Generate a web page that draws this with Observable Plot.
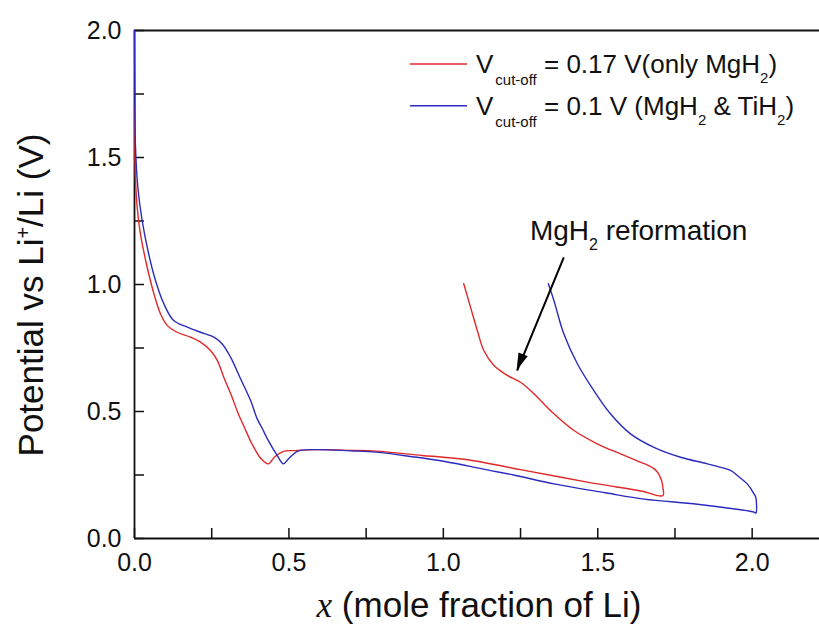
<!DOCTYPE html>
<html><head><meta charset="utf-8">
<script src="https://cdn.jsdelivr.net/npm/d3@7"></script>
<script src="https://cdn.jsdelivr.net/npm/@observablehq/plot@0.6"></script>
<style>html,body{margin:0;padding:0;background:#fff} #chart svg{display:block}</style>
</head><body><div id="chart"></div>
<script>
// Vcut-off = 0.17 V (only MgH2): discharge then charge
const redX = [0, 0.001, 0.003, 0.009, 0.019, 0.030, 0.041, 0.063, 0.084, 0.106, 0.138, 0.181, 0.214, 0.246, 0.268, 0.289, 0.316, 0.336, 0.355, 0.380, 0.410, 0.433, 0.455, 0.485, 0.514, 0.589, 0.700, 0.782, 0.931, 1.000, 1.079, 1.250, 1.377, 1.466, 1.525, 1.644, 1.711,
  1.711, 1.706, 1.695, 1.682, 1.660, 1.639, 1.574, 1.498, 1.423, 1.358, 1.293, 1.250, 1.207, 1.164, 1.131, 1.110, 1.088, 1.066];
const redV = [1.70, 1.55, 1.42, 1.30, 1.20, 1.13, 1.068, 0.963, 0.885, 0.839, 0.812, 0.793, 0.773, 0.740, 0.701, 0.635, 0.556, 0.491, 0.440, 0.373, 0.314, 0.294, 0.323, 0.344, 0.346, 0.350, 0.347, 0.344, 0.327, 0.320, 0.310, 0.271, 0.242, 0.222, 0.210, 0.186, 0.169,
  0.200, 0.230, 0.258, 0.275, 0.290, 0.300, 0.333, 0.373, 0.425, 0.491, 0.570, 0.615, 0.642, 0.681, 0.740, 0.819, 0.911, 1.003];

// Vcut-off = 0.1 V (MgH2 & TiH2): discharge then charge
const blueX = [0, 0.001, 0.003, 0.011, 0.025, 0.046, 0.068, 0.095, 0.127, 0.171, 0.214, 0.257, 0.284, 0.311, 0.343, 0.376, 0.397, 0.415, 0.433, 0.462, 0.482, 0.499, 0.529, 0.589, 0.700, 0.782, 0.900, 1.005, 1.142, 1.228, 1.358, 1.525, 1.650, 1.823, 1.950, 2.006, 2.012,
  2.012, 2.006, 1.984, 1.955, 1.930, 1.855, 1.768, 1.682, 1.606, 1.541, 1.487, 1.434, 1.390, 1.358, 1.340];
const blueV = [2.00, 1.78, 1.55, 1.38, 1.25, 1.12, 1.016, 0.924, 0.858, 0.832, 0.812, 0.793, 0.766, 0.714, 0.630, 0.543, 0.472, 0.430, 0.386, 0.327, 0.294, 0.314, 0.344, 0.350, 0.345, 0.340, 0.322, 0.303, 0.270, 0.250, 0.215, 0.180, 0.155, 0.135, 0.115, 0.104, 0.100,
  0.160, 0.176, 0.215, 0.245, 0.268, 0.294, 0.320, 0.359, 0.412, 0.491, 0.583, 0.688, 0.806, 0.937, 1.003];

const xTicks = [0, 0.5, 1.0, 1.5, 2.0];
const xMinor = [0.25, 0.75, 1.25, 1.75];
const yTicks = [0, 0.5, 1.0, 1.5, 2.0];
const yMinor = [0.25, 0.75, 1.25, 1.75];

const seriesColors = ["#e0282a", "#2b2bbd"];
const legendParts = [
  [["V", 0], ["cut-off", 1], [" = 0.17 V(only MgH", 0], ["2", 2], [")", 0]],
  [["V", 0], ["cut-off", 1], [" = 0.1 V (MgH", 0], ["2", 2], [" & TiH", 0], ["2", 2], [")", 0]]
];
const annotationParts = [["MgH", 0], ["2", 2], [" reformation", 0]];
const annotationAt = [1.282, 1.173];
const arrowFrom = [1.390, 1.107];
const arrowTo = [1.239, 0.661];
const xLabelParts = [["x", "italic"], [" (mole fraction of Li)", "normal"]];
const yLabelParts = [["Potential vs Li", 0], ["+", 3], ["/Li (V)", 0]];

const rows = (xs, vs) => xs.map((x, i) => ({x, v: vs[i]}));
const FONT = "'Liberation Sans', Arial, Helvetica, sans-serif";

const plot = Plot.plot({
  width: 819, height: 630,
  marginLeft: 134, marginRight: 0, marginTop: 30, marginBottom: 92,
  style: {fontFamily: FONT, background: "#fff", color: "#111"},
  x: {domain: [0, 2.218], axis: null},
  y: {domain: [0, 2], axis: null},
  marks: [
    Plot.axisX({ticks: xTicks, tickSize: 0, tickPadding: 15, tickFormat: d3.format(".1f"), fontSize: 25, fill: "#111"}),
    Plot.axisY({ticks: yTicks, tickSize: 0, tickPadding: 13, tickFormat: d3.format(".1f"), fontSize: 25, fill: "#111"}),
    Plot.ruleX([...xTicks, ...xMinor], {x: d => d, y1: 0, y2: 0, insetBottom: 10, stroke: "#111", strokeWidth: 1.5}),
    Plot.ruleY([...yTicks, ...yMinor], {y: d => d, x1: 0, x2: 0, insetLeft: 10, stroke: "#111", strokeWidth: 1.5}),
    Plot.ruleX([0], {stroke: "#111", strokeWidth: 1.8}),
    Plot.ruleY([0, 2], {stroke: "#111", strokeWidth: 1.8}),
    Plot.line(rows(redX, redV), {x: "x", y: "v", stroke: seriesColors[0], strokeWidth: 1.4, curve: "catmull-rom"}),
    Plot.line(rows(blueX, blueV), {x: "x", y: "v", stroke: seriesColors[1], strokeWidth: 1.4, curve: "catmull-rom"}),
    Plot.link([{x1: arrowFrom[0], y1: arrowFrom[1], x2: arrowTo[0], y2: arrowTo[1]}], {x1: "x1", y1: "y1", x2: "x2", y2: "y2", stroke: "#000", strokeWidth: 2})
  ]
});

document.getElementById("chart").append(plot);
const svg = d3.select(plot);
const sx = plot.scale("x"), sy = plot.scale("y");

// arrow head (filled)
{
  const [x1, y1] = [sx.apply(arrowFrom[0]), sy.apply(arrowFrom[1])];
  const [x2, y2] = [sx.apply(arrowTo[0]), sy.apply(arrowTo[1])];
  const a = Math.atan2(y2 - y1, x2 - x1), L = 17, W = 5;
  const bx = x2 - L * Math.cos(a), by = y2 - L * Math.sin(a);
  const px = -Math.sin(a) * W, py = Math.cos(a) * W;
  svg.append("polygon").attr("points", `${x2},${y2} ${bx + px},${by + py} ${bx - px},${by - py}`).attr("fill", "#000");
}

function addRich(g, x, y, parts, big, small, anchor) {
  const t = g.append("text").attr("x", x).attr("y", y).attr("font-family", FONT).attr("fill", "#111").attr("text-anchor", anchor || "start");
  let cur = 0;
  for (const [s, kind] of parts) {
    const off = kind === 1 ? 12 : kind === 2 ? 10 : kind === 3 ? -13 : 0;
    const sp = t.append("tspan").text(s).attr("font-size", kind ? small : big).attr("dy", off - cur);
    if (kind === 1) sp.attr("dx", 2);
    cur = off;
  }
  return t;
}

// legend
const legendY = [73.3, 115];
legendY.forEach((yb, i) => {
  svg.append("line").attr("x1", 410).attr("x2", 467).attr("y1", yb - 9.3).attr("y2", yb - 9.3)
    .attr("stroke", seriesColors[i]).attr("stroke-width", 1.4);
  addRich(svg, 476, yb, legendParts[i], 26, 15);
});

// annotation
addRich(svg, sx.apply(annotationAt[0]), sy.apply(annotationAt[1]), annotationParts, 28, 16);

// x label
{
  const t = svg.append("text").attr("x", 479).attr("y", 617).attr("text-anchor", "middle").attr("font-size", 35).attr("fill", "#111");
  t.append("tspan").text(xLabelParts[0][0]).attr("font-family", "'Liberation Serif', 'Times New Roman', serif").attr("font-style", "italic");
  t.append("tspan").text(xLabelParts[1][0]).attr("font-family", FONT);
}
// y label
{
  const g = svg.append("g").attr("transform", "translate(43,295) rotate(-90)");
  addRich(g, 0, 0, yLabelParts, 35, 20, "middle");
}
</script>
</body></html>
